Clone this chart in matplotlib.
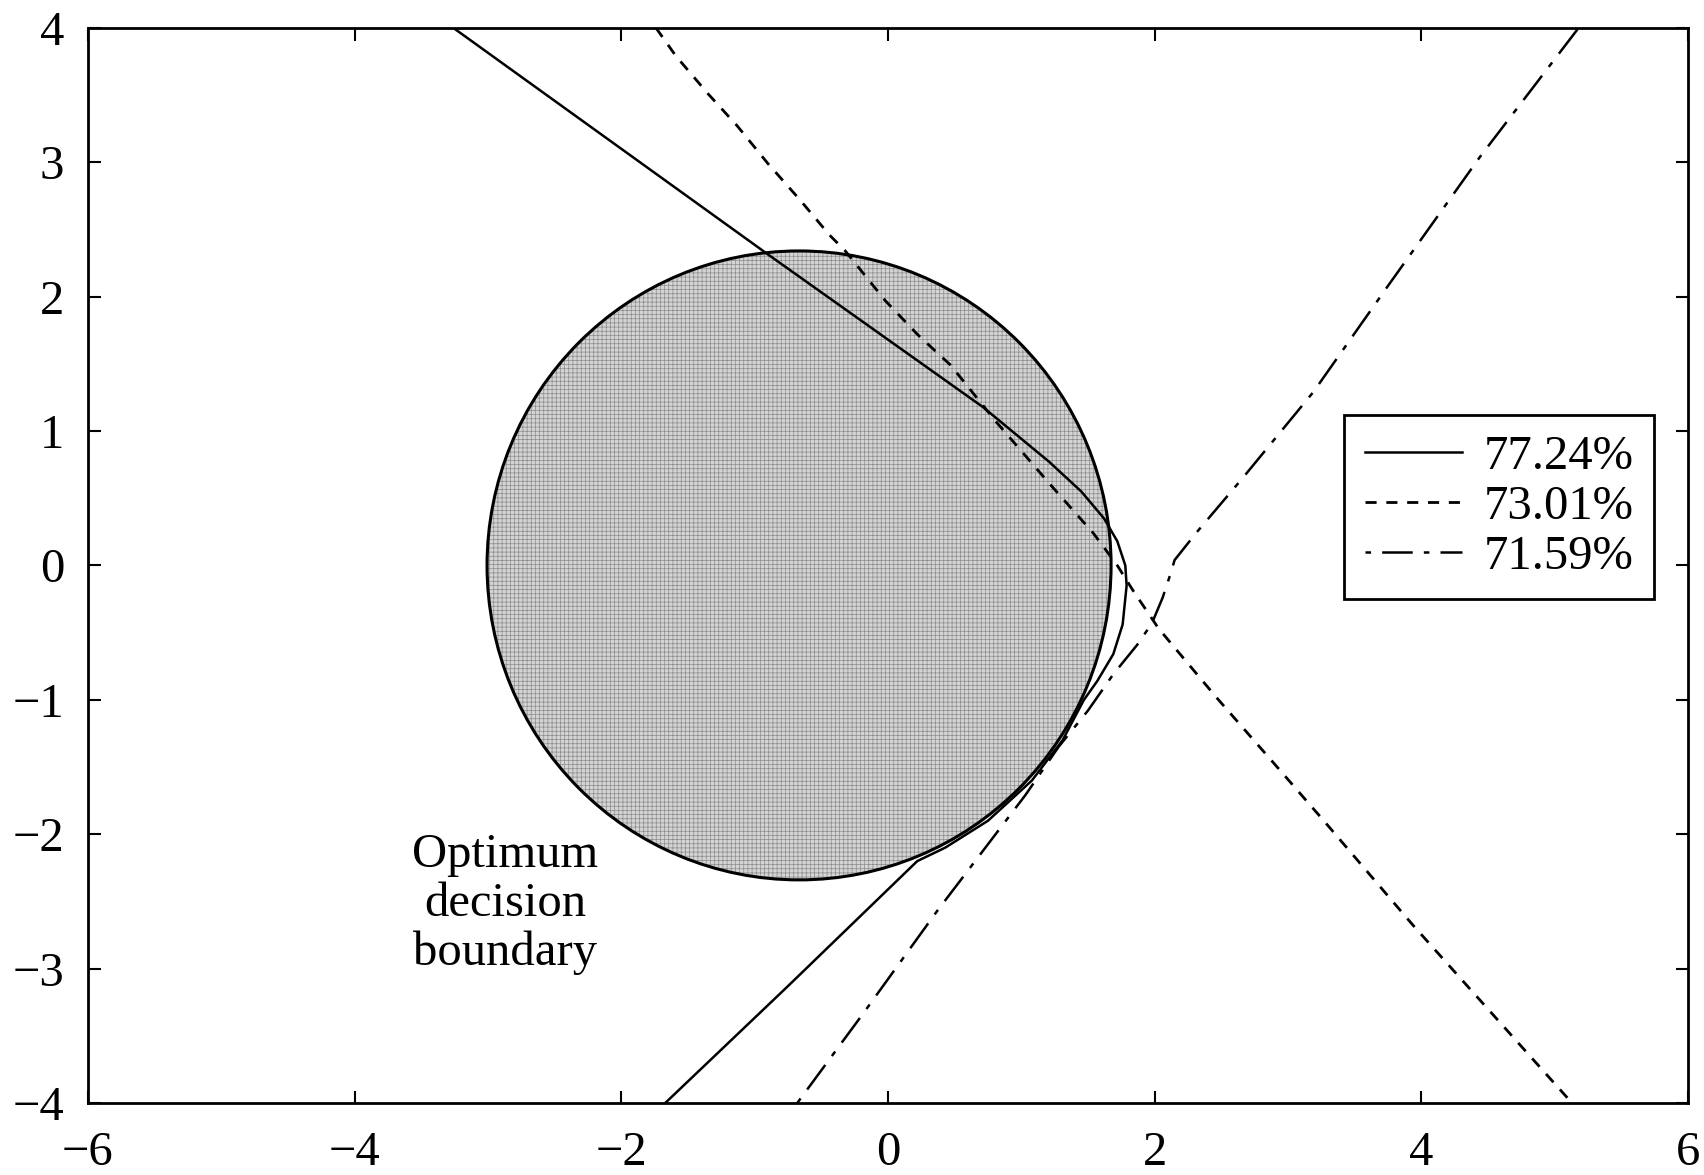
import matplotlib
matplotlib.use('Agg')
import matplotlib.pyplot as plt
from matplotlib.patches import Circle

# optimum (Bayes) decision boundary: circle
opt_center = (-2 / 3, 0.0)
opt_radius = 2.34

# boundaries learned by the three networks
x_7724 = [-3.26, -0.88, 0.71, 1.21, 1.45, 1.62, 1.72, 1.78, 1.79, 1.76, 1.69,
          1.57, 1.47, 1.31, 1.08, 0.75, 0.43, 0.22, -0.76, -1.67]
y_7724 = [4.00, 2.30, 1.18, 0.77, 0.55, 0.35, 0.18, 0.00, -0.15, -0.44, -0.66,
          -0.86, -1.00, -1.30, -1.60, -1.90, -2.10, -2.20, -3.14, -4.00]

x_7301 = [-1.74, -1.59, -1.47, -1.35, -1.13, -0.90, -0.66, -0.44, -0.32, -0.02,
          0.22, 0.47, 0.81, 1.21, 1.54, 1.72, 1.84, 2.03, 2.47, 2.91, 3.26, 3.94, 5.13]
y_7301 = [4.00, 3.79, 3.65, 3.51, 3.27, 2.99, 2.72, 2.46, 2.34, 1.97,
          1.72, 1.49, 1.07, 0.61, 0.24, 0.00, -0.19, -0.47, -0.99, -1.49, -1.89, -2.68, -4.00]

x_7159 = [-0.68, -0.19, 0.37, 1.03, 1.28, 1.50, 1.69, 1.87, 1.98, 2.06, 2.11,
          2.15, 2.31, 2.66, 3.19, 3.75, 4.44, 5.18]
y_7159 = [-4.00, -3.34, -2.57, -1.71, -1.35, -1.08, -0.81, -0.59, -0.43, -0.24, -0.09,
          0.04, 0.24, 0.65, 1.29, 2.08, 3.04, 4.00]

labels = ['77.24%', '73.01%', '71.59%']
x_ticks = [-6, -4, -2, 0, 2, 4, 6]
y_ticks = [-4, -3, -2, -1, 0, 1, 2, 3, 4]

plt.rcParams['font.family'] = ['Liberation Serif', 'DejaVu Serif']
plt.rcParams['lines.scale_dashes'] = False
plt.rcParams['hatch.linewidth'] = 0.5

fig = plt.figure(figsize=(17.04, 11.75), dpi=100)
ax = fig.add_axes([0.0516, 0.0613, 0.939, 0.915])

# halftone-like shading inside the optimum boundary
ax.add_patch(Circle(opt_center, opt_radius, facecolor='#d4d4d4', edgecolor='#8c8c8c',
                    hatch='++++', lw=0, zorder=1))
ax.add_patch(Circle(opt_center, opt_radius, facecolor='none', edgecolor='black',
                    lw=2.2, zorder=2))

ax.plot(x_7724, y_7724, color='black', lw=1.8, label=labels[0], zorder=3)
ax.plot(x_7301, y_7301, color='black', lw=2.0, dashes=(8, 7), label=labels[1], zorder=3)
ax.plot(x_7159, y_7159, color='black', lw=1.8, dashes=(4, 8, 22, 8), label=labels[2], zorder=3)

ax.text(-2.87, -2.52, 'Optimum\ndecision\nboundary', ha='center', va='center',
        fontsize=35, linespacing=1.13)

ax.set_xlim(-6, 6)
ax.set_ylim(-4, 4)
ax.set_xticks(x_ticks)
ax.set_yticks(y_ticks)
ax.tick_params(direction='in', length=9, width=1.5, top=True, right=True, labelsize=35)
ax.tick_params(axis='x', pad=20)
ax.tick_params(axis='y', pad=17)
for sp in ax.spines.values():
    sp.set_linewidth(2)

leg = ax.legend(loc='upper right', bbox_to_anchor=(0.979, 0.640), borderaxespad=0,
                fontsize=35, fancybox=False, framealpha=1, edgecolor='black',
                handlelength=2.0, handletextpad=0.45, labelspacing=0.12, borderpad=0.42)
leg.get_frame().set_linewidth(2)

fig.savefig('out.png', dpi=100, facecolor='white')
